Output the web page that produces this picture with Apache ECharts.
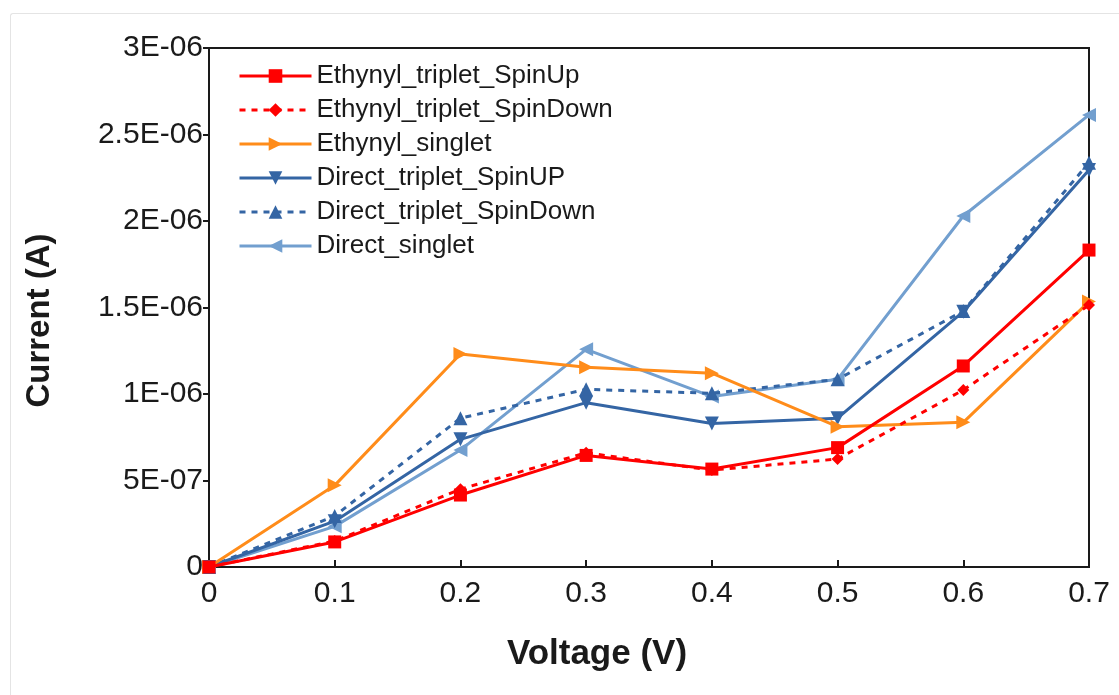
<!DOCTYPE html>
<html>
<head>
<meta charset="utf-8">
<script src="https://cdn.jsdelivr.net/npm/echarts@6/dist/echarts.min.js"></script>
<style>
  html, body { margin: 0; padding: 0; background: #ffffff; }
  #frame { position: absolute; left: 10px; top: 13px; width: 1200px; height: 800px;
           border-top: 1px solid #e4e4e4; border-left: 1px solid #e4e4e4; border-radius: 3px; }
  #chart { position: absolute; left: 0; top: 0; width: 1119px; height: 695px; }
</style>
</head>
<body>
<div id="frame"></div>
<div id="chart"></div>
<script>
// ---- data ----
const voltages = [0, 0.1, 0.2, 0.3, 0.4, 0.5, 0.6, 0.7];
const xTickLabels = ['0', '0.1', '0.2', '0.3', '0.4', '0.5', '0.6', '0.7'];
const yTickLabels = ['0', '5E-07', '1E-06', '1.5E-06', '2E-06', '2.5E-06', '3E-06'];
const seriesNames = ['Ethynyl_triplet_SpinUp', 'Ethynyl_triplet_SpinDown', 'Ethynyl_singlet',
                     'Direct_triplet_SpinUP', 'Direct_triplet_SpinDown', 'Direct_singlet'];
const ethynylTripletSpinUp   = [0, 0.145e-6, 0.416e-6, 0.645e-6, 0.566e-6, 0.690e-6, 1.162e-6, 1.832e-6];
const ethynylTripletSpinDown = [0, 0.150e-6, 0.450e-6, 0.660e-6, 0.560e-6, 0.624e-6, 1.023e-6, 1.514e-6];
const ethynylSinglet         = [0, 0.472e-6, 1.231e-6, 1.154e-6, 1.120e-6, 0.811e-6, 0.836e-6, 1.534e-6];
const directTripletSpinUp    = [0, 0.265e-6, 0.738e-6, 0.950e-6, 0.830e-6, 0.860e-6, 1.476e-6, 2.295e-6];
const directTripletSpinDown  = [0, 0.295e-6, 0.860e-6, 1.027e-6, 1.004e-6, 1.085e-6, 1.480e-6, 2.337e-6];
const directSinglet          = [0, 0.235e-6, 0.676e-6, 1.258e-6, 0.985e-6, 1.085e-6, 2.029e-6, 2.613e-6];

const allValues = [ethynylTripletSpinUp, ethynylTripletSpinDown, ethynylSinglet,
                   directTripletSpinUp, directTripletSpinDown, directSinglet];
const colors = ['#ff0000', '#ff0000', '#ff8c1a', '#3465a4', '#3465a4', '#729fcf'];
const symbols = ['rect', 'diamond', 'triangle', 'triangle', 'triangle', 'triangle'];
const rotations = [0, 0, -90, 180, 0, 90];
const symbolSizes = [13, 12, 14, 14, 14, 14];
const dashed = [false, true, false, false, true, false];

const chart = echarts.init(document.getElementById('chart'), null, { renderer: 'canvas' });

const series = seriesNames.map((name, i) => ({
  name: name,
  type: 'line',
  data: voltages.map((v, j) => [v, allValues[i][j]]),
  symbol: symbols[i],
  symbolSize: symbolSizes[i],
  symbolRotate: rotations[i],
  showAllSymbol: true,
  lineStyle: { color: colors[i], width: 3, type: dashed[i] ? [6, 6] : 'solid' },
  itemStyle: { color: colors[i] },
  emphasis: { disabled: true },
  animation: false,
  z: 10 - i
}));

chart.setOption({
  animation: false,
  backgroundColor: 'transparent',
  grid: {
    left: 209, right: 30, top: 48, bottom: 128,
    show: true, borderColor: '#1a1a1a', borderWidth: 2, backgroundColor: 'transparent'
  },
  legend: {
    orient: 'vertical',
    left: 233, top: 58,
    itemWidth: 72, itemHeight: 17,
    itemGap: 8,
    data: seriesNames,
    lineStyle: { width: 3 },
    textStyle: { fontFamily: 'Liberation Sans', fontSize: 26, color: '#1a1a1a', lineHeight: 26 },
    selectedMode: false
  },
  xAxis: {
    type: 'value',
    min: 0, max: 0.7, interval: 0.1,
    name: 'Voltage (V)',
    nameLocation: 'middle',
    nameGap: 70,
    nameTextStyle: { fontFamily: 'Liberation Sans', fontWeight: 'bold', fontSize: 35, color: '#1a1a1a',
                     padding: [0, 104, 0, 0] },
    axisLine: { show: true, lineStyle: { color: '#1a1a1a', width: 2 } },
    axisTick: { show: true, inside: true, length: 7, lineStyle: { color: '#1a1a1a', width: 2 } },
    axisLabel: {
      margin: 12,
      fontFamily: 'Liberation Sans', fontSize: 30, color: '#1a1a1a',
      formatter: (v) => xTickLabels[Math.round(v * 10)]
    },
    splitLine: { show: false }
  },
  yAxis: {
    type: 'value',
    min: 0, max: 3e-6, interval: 5e-7,
    name: 'Current (A)',
    nameLocation: 'middle',
    nameGap: 153,
    nameRotate: 90,
    nameTextStyle: { fontFamily: 'Liberation Sans', fontWeight: 'bold', fontSize: 33, color: '#1a1a1a',
                     padding: [0, 26, 0, 0] },
    axisLine: { show: true, lineStyle: { color: '#1a1a1a', width: 2 } },
    axisTick: { show: true, inside: false, length: 6, lineStyle: { color: '#1a1a1a', width: 2 } },
    axisLabel: {
      margin: 6,
      fontFamily: 'Liberation Sans', fontSize: 30, color: '#1a1a1a',
      formatter: (v) => yTickLabels[Math.round(v / 5e-7)]
    },
    splitLine: { show: false }
  },
  series: series
});
</script>
</body>
</html>
